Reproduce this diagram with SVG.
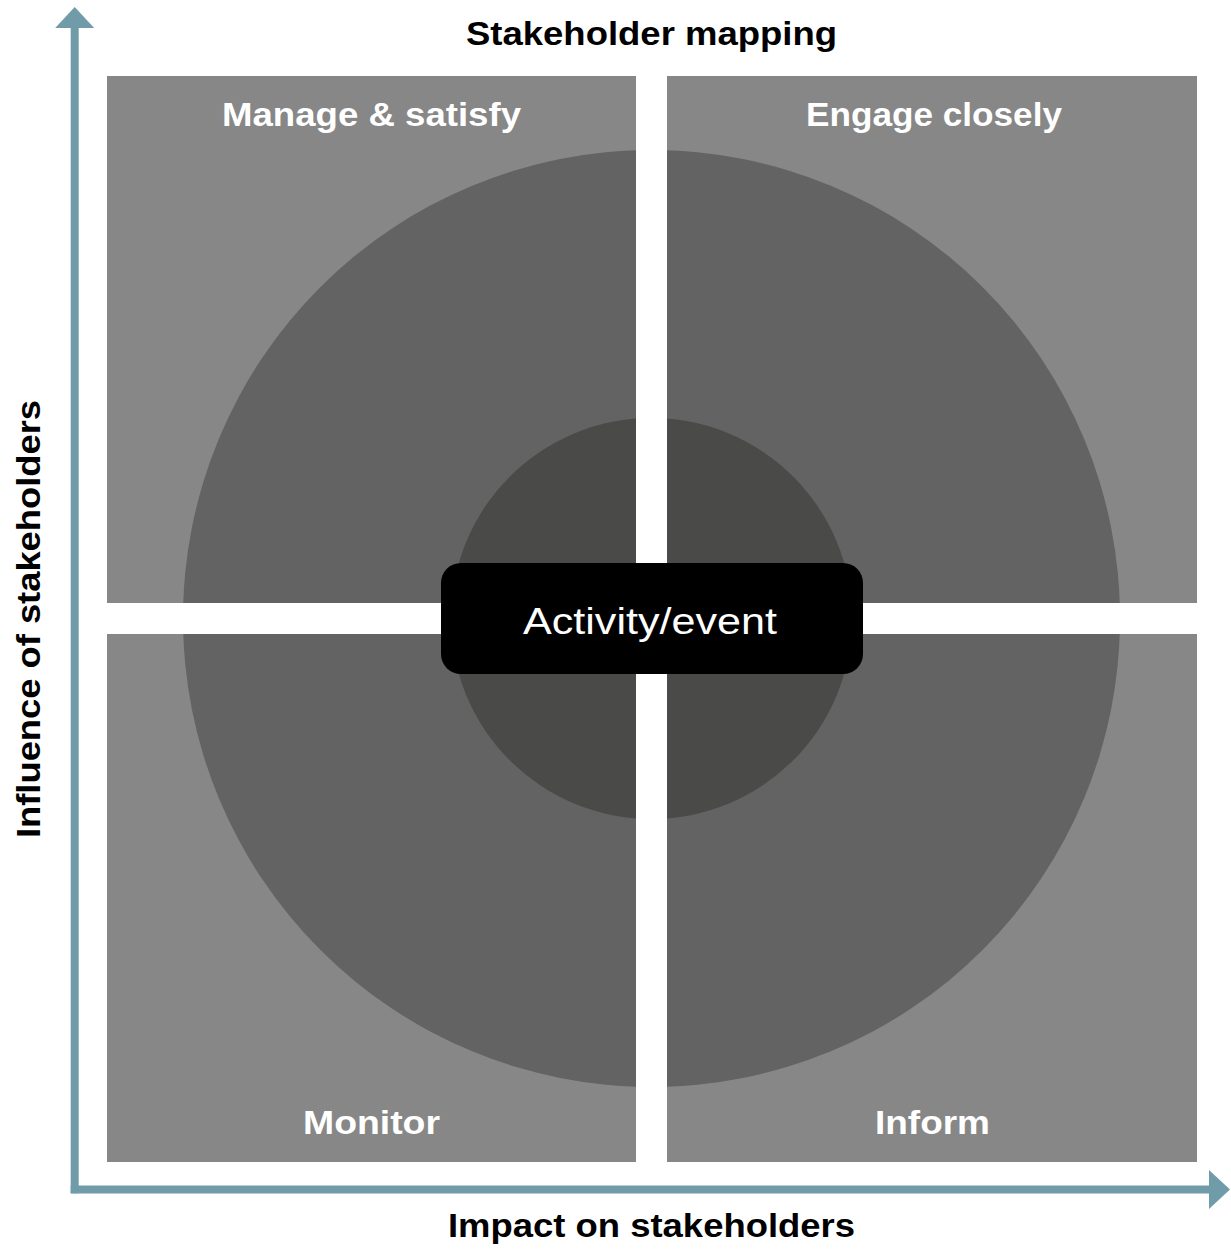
<svg xmlns="http://www.w3.org/2000/svg" width="1231" height="1251" viewBox="0 0 1231 1251">
  <style>
    .quad { fill: #878787; }
    .ring { fill: #636363; }
    .core { fill: #4a4a48; }
    .qlabel { font-family: "Liberation Sans", Arial, sans-serif; font-weight: bold; font-size: 33px; fill: #ffffff; text-anchor: middle; }
    .axis { font-family: "Liberation Sans", Arial, sans-serif; font-weight: bold; font-size: 34px; fill: #000000; text-anchor: middle; }
    .axisline { stroke: #6f9ca8; stroke-width: 8; fill: none; }
    .center { font-family: "Liberation Sans", Arial, sans-serif; font-size: 36px; fill: #ffffff; text-anchor: middle; }
  </style>
  <defs>
    <marker id="arrow" markerUnits="userSpaceOnUse" markerWidth="22" markerHeight="40" refX="0" refY="19.5" orient="auto">
      <path d="M0,0 L21,19.5 L0,39 Z" fill="#6f9ca8"/>
    </marker>
    <clipPath id="cTL"><rect x="107" y="76" width="529" height="527"/></clipPath>
    <clipPath id="cTR"><rect x="667" y="76" width="530" height="527"/></clipPath>
    <clipPath id="cBL"><rect x="107" y="634" width="529" height="528"/></clipPath>
    <clipPath id="cBR"><rect x="667" y="634" width="530" height="528"/></clipPath>
  </defs>
  <rect width="1231" height="1251" fill="#ffffff"/>

  <g id="title">
    <text class="axis" x="651.5" y="45" textLength="371" lengthAdjust="spacingAndGlyphs">Stakeholder mapping</text>
  </g>

  <g id="quadrant-manage-satisfy">
    <rect class="quad" x="107" y="76" width="529" height="527"/>
    <g clip-path="url(#cTL)">
      <circle class="ring" cx="651.5" cy="618.5" r="468.5"/>
      <circle class="core" cx="651.5" cy="618.5" r="200.5"/>
    </g>
    <text class="qlabel" x="371.5" y="126" textLength="299" lengthAdjust="spacingAndGlyphs">Manage &amp; satisfy</text>
  </g>

  <g id="quadrant-engage-closely">
    <rect class="quad" x="667" y="76" width="530" height="527"/>
    <g clip-path="url(#cTR)">
      <circle class="ring" cx="651.5" cy="618.5" r="468.5"/>
      <circle class="core" cx="651.5" cy="618.5" r="200.5"/>
    </g>
    <text class="qlabel" x="934" y="126" textLength="256" lengthAdjust="spacingAndGlyphs">Engage closely</text>
  </g>

  <g id="quadrant-monitor">
    <rect class="quad" x="107" y="634" width="529" height="528"/>
    <g clip-path="url(#cBL)">
      <circle class="ring" cx="651.5" cy="618.5" r="468.5"/>
      <circle class="core" cx="651.5" cy="618.5" r="200.5"/>
    </g>
    <text class="qlabel" x="371.5" y="1134" textLength="137" lengthAdjust="spacingAndGlyphs">Monitor</text>
  </g>

  <g id="quadrant-inform">
    <rect class="quad" x="667" y="634" width="530" height="528"/>
    <g clip-path="url(#cBR)">
      <circle class="ring" cx="651.5" cy="618.5" r="468.5"/>
      <circle class="core" cx="651.5" cy="618.5" r="200.5"/>
    </g>
    <text class="qlabel" x="932.5" y="1134" textLength="115" lengthAdjust="spacingAndGlyphs">Inform</text>
  </g>

  <g id="activity-event">
    <rect x="441" y="563" width="422" height="111" rx="20" ry="20" fill="#000000"/>
    <text class="center" x="650" y="634" textLength="254" lengthAdjust="spacingAndGlyphs">Activity/event</text>
  </g>

  <g id="connectors">
    <line class="axisline" x1="74.7" y1="1193.3" x2="74.7" y2="28" marker-end="url(#arrow)"/>
    <line class="axisline" x1="70.7" y1="1189.5" x2="1209" y2="1189.5" marker-end="url(#arrow)"/>
  </g>

  <g id="axis-x-label">
    <text class="axis" x="651.5" y="1237" textLength="407" lengthAdjust="spacingAndGlyphs">Impact on stakeholders</text>
  </g>
  <g id="axis-y-label">
    <text class="axis" transform="translate(40,619) rotate(-90)" x="0" y="0" textLength="438" lengthAdjust="spacingAndGlyphs">Influence of stakeholders</text>
  </g>
</svg>
